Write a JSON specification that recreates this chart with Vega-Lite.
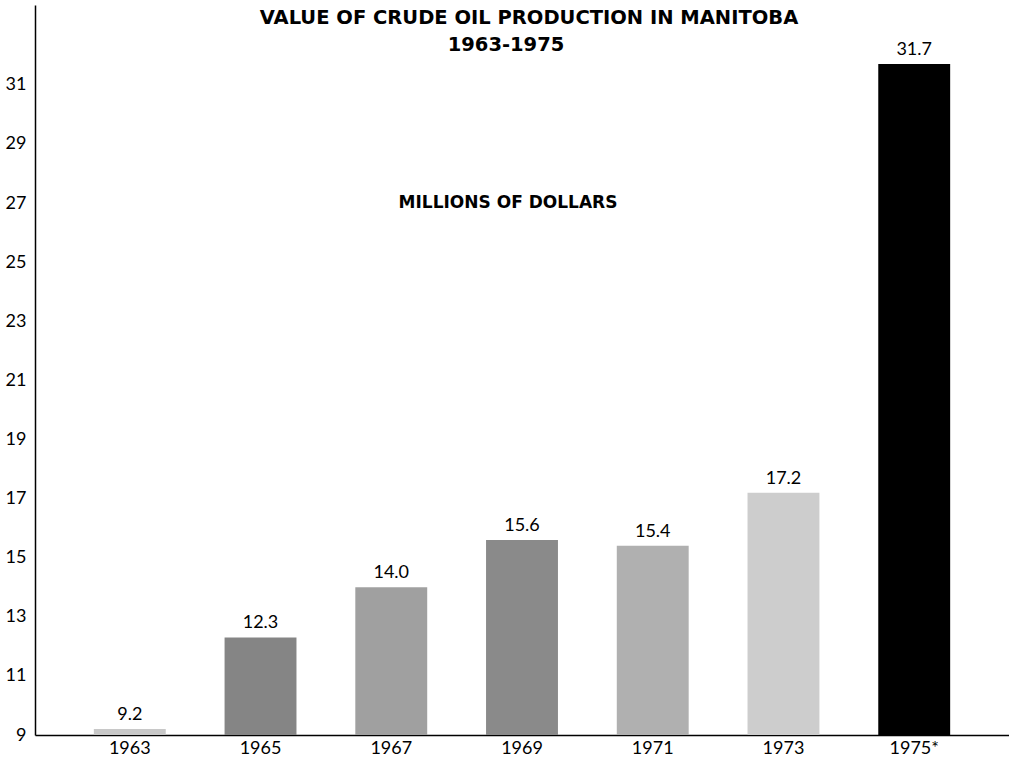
{
  "$schema": "https://vega.github.io/schema/vega-lite/v6.json",
  "width": 974,
  "height": 730,
  "autosize": {"type": "none"},
  "padding": {"left": 35, "top": 5, "right": 0, "bottom": 28},
  "background": "white",
  "config": {
    "view": {"stroke": null},
    "font": "Lato",
    "axis": {"labelFont": "Lato", "labelColor": "black", "domainColor": "black"}
  },
  "title": {
    "text": "VALUE OF CRUDE OIL PRODUCTION IN MANITOBA",
    "anchor": "middle",
    "orient": "top",
    "offset": -23,
    "dx": 7,
    "fontSize": 19.5,
    "fontWeight": "bold",
    "font": "DejaVu Sans",
    "color": "black"
  },
  "data": {
    "values": [
      {"year": "1963", "value": 9.2, "label": "9.2"},
      {"year": "1965", "value": 12.3, "label": "12.3"},
      {"year": "1967", "value": 14.0, "label": "14.0"},
      {"year": "1969", "value": 15.6, "label": "15.6"},
      {"year": "1971", "value": 15.4, "label": "15.4"},
      {"year": "1973", "value": 17.2, "label": "17.2"},
      {"year": "1975*", "value": 31.7, "label": "31.7"}
    ]
  },
  "encoding": {
    "x": {
      "field": "year",
      "type": "nominal",
      "sort": null,
      "scale": {"paddingInner": 0.45, "paddingOuter": 0.45},
      "axis": {
        "title": null,
        "labelAngle": 0,
        "labelFontSize": 18,
        "ticks": false,
        "tickSize": 0,
        "labelPadding": 4,
        "domainWidth": 1.5
      }
    }
  },
  "layer": [
    {
      "mark": {"type": "bar"},
      "encoding": {
        "y": {
          "field": "value",
          "type": "quantitative",
          "scale": {"domain": [9, 33.7], "zero": false, "nice": false},
          "axis": {
            "title": null,
            "values": [9, 11, 13, 15, 17, 19, 21, 23, 25, 27, 29, 31],
            "labelFontSize": 18,
            "ticks": false,
            "tickSize": 0,
            "labelPadding": 9,
            "grid": false,
            "domainWidth": 1.5
          }
        },
        "y2": {"datum": 9},
        "color": {
          "field": "year",
          "type": "nominal",
          "legend": null,
          "scale": {
            "domain": ["1963", "1965", "1967", "1969", "1971", "1973", "1975*"],
            "range": ["#c8c8c8", "#858585", "#a0a0a0", "#8a8a8a", "#b0b0b0", "#cdcdcd", "#000000"]
          }
        }
      }
    },
    {
      "mark": {"type": "text", "baseline": "bottom", "dy": -5, "fontSize": 18, "color": "black"},
      "encoding": {
        "y": {"field": "value", "type": "quantitative"},
        "text": {"field": "label"}
      }
    },
    {
      "data": {"values": [{"note": "MILLIONS OF DOLLARS"}]},
      "mark": {"type": "text", "fontSize": 17, "fontWeight": "bold", "font": "DejaVu Sans", "color": "black", "dx": -14, "baseline": "middle"},
      "encoding": {
        "x": {"datum": "1969"},
        "y": {"datum": 27},
        "text": {"field": "note"}
      }
    },
    {
      "data": {"values": [{"note": "1963-1975"}]},
      "mark": {"type": "text", "fontSize": 19.5, "fontWeight": "bold", "font": "DejaVu Sans", "color": "black", "dx": -16, "baseline": "middle"},
      "encoding": {
        "x": {"datum": "1969"},
        "y": {"datum": 32.35},
        "text": {"field": "note"}
      }
    }
  ]
}
